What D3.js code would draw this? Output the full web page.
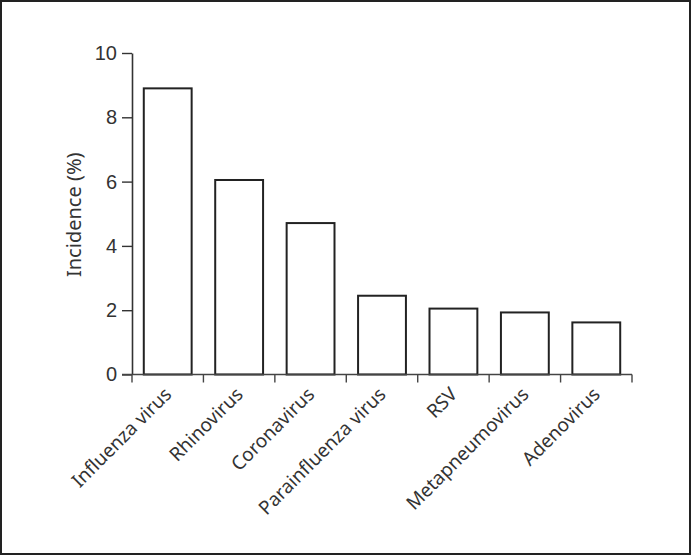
<!DOCTYPE html>
<html lang="en">
<head>
<meta charset="UTF-8">
<title>Incidence</title>
<style>
  body { margin: 0; background: #fff; }
  svg { display: block; font-family: "Noto Sans", "Open Sans", sans-serif; }
</style>
</head>
<body>
<svg id="svgId"></svg>
<script src="https://cdnjs.cloudflare.com/ajax/libs/d3/7.8.5/d3.min.js"></script>
<script>
    // data
    const categories = ['Influenza virus', 'Rhinovirus', 'Coronavirus', 'Parainfluenza virus', 'RSV', 'Metapneumovirus', 'Adenovirus'];
    const incidence = [8.9, 6.05, 4.71, 2.45, 2.05, 1.93, 1.62];
    const yTicks = [0, 2, 4, 6, 8, 10];

    const svgWidth = 691, svgHeight = 555;
    const margin = {top: 53, left: 132, right: 59, bottom: 180.5};
    const width = svgWidth - margin.left - margin.right;
    const height = svgHeight - margin.top - margin.bottom;

    const root = d3.select('#svgId')
        .attr('width', svgWidth)
        .attr('height', svgHeight);

    // frame round the whole figure
    root.append('rect')
        .attr('x', 1).attr('y', 1)
        .attr('width', svgWidth - 2).attr('height', svgHeight - 2)
        .attr('fill', 'none')
        .attr('stroke', '#222')
        .attr('stroke-width', 2);

    const svg = root.append('g')
        .attr('transform', `translate(${margin.left},${margin.top})`);

    const xScale = d3.scaleBand().domain(categories).range([0, width]);
    const yScale = d3.scaleLinear().domain([0, 10]).range([height, 0]);
    const barW = xScale.bandwidth() * 0.67;

    // bars
    svg.selectAll('.bar')
        .data(incidence).enter()
        .append('rect')
        .attr('class', 'bar')
        .attr('x', (d, i) => xScale(categories[i]) + (xScale.bandwidth() - barW) / 2)
        .attr('y', d => yScale(d))
        .attr('width', barW)
        .attr('height', d => yScale(0) - yScale(d))
        .attr('fill', '#fff')
        .attr('stroke', '#222')
        .attr('stroke-width', 2);

    // y axis
    const yAxis = svg.append('g')
        .call(d3.axisLeft(yScale).tickValues(yTicks).tickSize(10).tickPadding(5).tickSizeOuter(0));
    yAxis.select('.domain').attr('stroke', '#333').attr('stroke-width', 1.6);
    yAxis.selectAll('.tick line').attr('stroke', '#333').attr('stroke-width', 1.4);
    yAxis.selectAll('.tick text')
        .attr('fill', '#333')
        .style('font-size', '20px');

    // x axis: ticks sit on the band edges
    const xAxis = svg.append('g')
        .attr('transform', `translate(0,${height})`);
    xAxis.append('line')
        .attr('x1', -10).attr('x2', width)
        .attr('stroke', '#444').attr('stroke-width', 1.4);
    const edges = categories.map(c => xScale(c)).concat([width]);
    xAxis.selectAll('.edge')
        .data(edges).enter()
        .append('line')
        .attr('class', 'edge')
        .attr('x1', d => d).attr('x2', d => d)
        .attr('y1', 0).attr('y2', 8)
        .attr('stroke', '#444').attr('stroke-width', 1.4);
    xAxis.selectAll('.lab')
        .data(categories).enter()
        .append('text')
        .attr('class', 'lab')
        .attr('transform', d => `translate(${xScale(d) + xScale.bandwidth() / 2 + 5},${21}) rotate(-45)`)
        .attr('text-anchor', 'end')
        .attr('fill', '#333')
        .style('font-size', '19px')
        .text(d => d);

    // y label
    svg.append('text')
        .attr('transform', `translate(-51,${height / 2 + 53 - 52}) rotate(-90)`)
        .attr('text-anchor', 'middle')
        .attr('fill', '#333')
        .style('font-size', '20px')
        .text('Incidence (%)');
</script>
</body>
</html>
